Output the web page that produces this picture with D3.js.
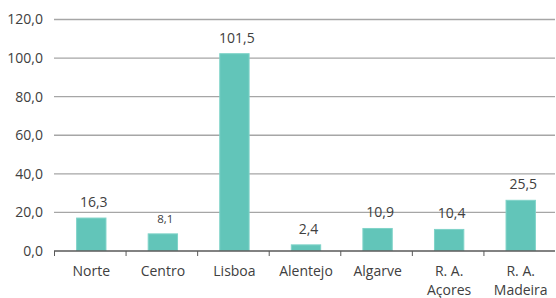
<!DOCTYPE html>
<html>
<head>
<meta charset="utf-8">
<script src="https://cdn.jsdelivr.net/npm/d3@7"></script>
<style>
body { margin: 0; background: #fff; }
text { font-family: "Open Sans", sans-serif; fill: #404040; }
</style>
</head>
<body>
<svg></svg>
<script>
var regions = ["Norte", "Centro", "Lisboa", "Alentejo", "Algarve", "R. A.|Açores", "R. A.|Madeira"]
var values = [16.3, 8.1, 101.5, 2.4, 10.9, 10.4, 25.5]
var labels = ["16,3", "8,1", "101,5", "2,4", "10,9", "10,4", "25,5"]
var yTicks = [0, 20, 40, 60, 80, 100, 120]

var margins = {"top": 19, "left": 54, "bottom": 47.5, "right": 1}
var width = 556 - margins.left - margins.right
var height = 298 - margins.top - margins.bottom

var svg = d3.select("svg").attr("width", 556).attr("height", 298)
var g = svg.append("g").attr("transform", "translate(" + margins.left + "," + margins.top + ")")

var xScale = d3.scaleBand().domain(regions).range([0, width]).paddingInner(0.59).paddingOuter(0.295)
var yScale = d3.scaleLinear().domain([0, 120]).range([height, 0])

// gridlines
g.append("g").selectAll("line").data(yTicks.slice(1)).enter().append("line")
.attr("x1", 0).attr("x2", width)
.attr("y1", function(d){return yScale(d) + 0.5}).attr("y2", function(d){return yScale(d) + 0.5})
.style("stroke", "#a6a6a6").style("stroke-width", 1.3)

// y labels
var yAxis = d3.axisLeft(yScale).tickValues(yTicks).tickSize(0).tickPadding(11)
.tickFormat(function(d){return d3.format(".1f")(d).replace(".", ",")})
var yG = g.append("g").call(yAxis)
yG.select(".domain").remove()
yG.selectAll("text").style("font-size", "14px").style("fill", "#404040").style("font-family", "Open Sans").attr("dy", "0.35em")

// bars
g.append("g").selectAll("rect").data(values).enter().append("rect")
.attr("x", function(d, i){return xScale(regions[i]) + 1.5})
.attr("width", xScale.bandwidth())
.attr("y", function(d){return yScale(d) - 1})
.attr("height", function(d){return height - yScale(d) + 1})
.style("fill", "#62c5b9").style("stroke", "#7fd3c8").style("stroke-width", 1)

// value labels
g.append("g").selectAll("text").data(values).enter().append("text")
.attr("x", function(d, i){return xScale(regions[i]) + xScale.bandwidth() / 2 + 4})
.attr("y", function(d){return yScale(d) - 12})
.attr("text-anchor", "middle")
.style("font-size", function(d, i){return i == 1 ? "11.5px" : "14px"})
.text(function(d, i){return labels[i]})

// x axis
var xAxis = d3.axisBottom(xScale).tickSize(0).tickFormat("")
var xG = g.append("g").attr("transform", "translate(0," + (height + 0.5) + ")").call(xAxis)
xG.select(".domain").remove()
xG.append("line").attr("x1", 0).attr("x2", width).style("stroke", "#595959").style("stroke-width", 1.3)
var step = xScale.step()
xG.selectAll(".sep").data(d3.range(regions.length)).enter().append("line")
.attr("x1", function(d){return d * step + 0.5}).attr("x2", function(d){return d * step + 0.5})
.attr("y1", 0).attr("y2", 5).style("stroke", "#595959")

var cat = xG.selectAll(".cat").data(regions).enter().append("text")
.attr("text-anchor", "middle")
.attr("transform", function(d){return "translate(" + (xScale(d) + xScale.bandwidth() / 2 + 1.5) + ",0)"})
.style("font-size", "14px")
cat.each(function(d){
  var parts = d.split("|")
  var t = d3.select(this)
  parts.forEach(function(p, k){
    t.append("tspan").attr("x", 0).attr("y", 24.5 + k * 19).text(p)
  })
})
</script>
</body>
</html>
